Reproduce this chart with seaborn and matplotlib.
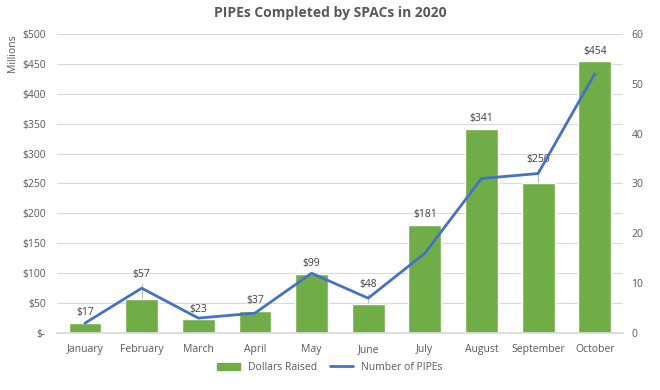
import matplotlib
matplotlib.use("Agg")
import matplotlib.pyplot as plt
import matplotlib.patches as mpatches
import matplotlib.lines as mlines
import seaborn as sns
import pandas as pd
import numpy as np

months = ["January", "February", "March", "April", "May", "June",
          "July", "August", "September", "October"]
dollars = [17, 57, 23, 37, 99, 48, 181, 341, 250, 454]
pipes = [2, 9, 3, 4, 12, 7, 16, 31, 32, 52]

green = "#70AD47"
blue = "#4472C4"
grey = "#595959"

df = pd.DataFrame({"Month": months, "Dollars": dollars,
                   "Pipes": pipes, "pos": np.arange(len(months))})

sns.set_theme(style="white")
plt.rcParams['font.family'] = ['Open Sans', 'DejaVu Sans']

fig = plt.figure(figsize=(6.6, 3.9), dpi=100)
ax = fig.add_axes([0.086, 0.146, 0.858, 0.767])

sns.barplot(data=df, x="Month", y="Dollars", color=green, width=0.58,
            saturation=1, ax=ax, zorder=2)
ax.set_ylim(0, 500)
ax.set_xlim(-0.5, len(months) - 0.5)
ax.set_yticks(range(0, 501, 50))
ax.set_yticklabels(["$-"] + [f"${v}" for v in range(50, 501, 50)])
ax.yaxis.grid(True, color="#d9d9d9", linewidth=0.8, zorder=0)
ax.set_axisbelow(True)
ax.set_xlabel("")
ax.set_ylabel("")
for s in ["top", "right", "left"]:
    ax.spines[s].set_visible(False)
ax.spines["bottom"].set_color("#d9d9d9")
ax.tick_params(axis="both", length=0, labelsize=7.5, labelcolor=grey, pad=8)
ax.text(-0.078, 1.0, "Millions", transform=ax.transAxes, rotation=90,
        ha="center", va="top", fontsize=7.5, color=grey)

ax2 = ax.twinx()
sns.lineplot(data=df, x="pos", y="Pipes", color=blue, linewidth=2, ax=ax2)
ax2.set_ylim(0, 60)
ax2.set_yticks(range(0, 61, 10))
ax2.set_ylabel("")
for s in ["top", "right", "left", "bottom"]:
    ax2.spines[s].set_visible(False)
ax2.tick_params(axis="y", length=0, labelsize=7.5, labelcolor=grey, pad=6)
ax2.grid(False)

# data labels: above the bar, pushed above the line where it runs higher
scale = 500 / 60
for i, (d, p) in enumerate(zip(dollars, pipes)):
    line_y = p * scale
    top = d
    if 5 < line_y - d < 40:
        top = line_y + 6
        ax.plot([i, i], [d, top + 1], color="#bfbfbf", linewidth=0.8, zorder=1.5)
    ax.text(i, top + 8, f"${d}", ha="center", va="bottom", fontsize=7.5,
            color="#404040", zorder=4)

handles = [mpatches.Patch(color=green, label="Dollars Raised"),
           mlines.Line2D([], [], color=blue, linewidth=2, label="Number of PIPEs")]
fig.legend(handles=handles, loc="lower center", bbox_to_anchor=(0.5, 0.02),
           ncol=2, frameon=False, fontsize=7.5, handlelength=2.2,
           columnspacing=1.2, labelcolor=grey)

fig.suptitle("PIPEs Completed by SPACs in 2020", y=0.985, fontsize=10,
             fontweight="bold", color=grey)

fig.savefig("out.png", dpi=100)
